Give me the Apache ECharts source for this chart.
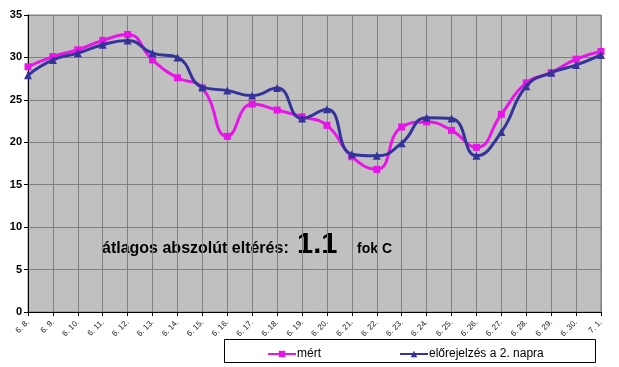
<!DOCTYPE html>
<html>
<head>
<meta charset="utf-8">
<script src="https://cdn.jsdelivr.net/npm/echarts@6/dist/echarts.min.js"></script>
<style>
  html, body { margin: 0; padding: 0; background: #fff; }
  #chart { width: 619px; height: 367px; }
</style>
</head>
<body>
<div id="chart"></div>
<script>
var days = ['6. 8.', '6. 9.', '6. 10.', '6. 11.', '6. 12.', '6. 13.', '6. 14.', '6. 15.',
  '6. 16.', '6. 17.', '6. 18.', '6. 19.', '6. 20.', '6. 21.', '6. 22.', '6. 23.',
  '6. 24.', '6. 25.', '6. 26.', '6. 27.', '6. 28.', '6. 29.', '6. 30.', '7. 1.'];
var mert = [28.9, 30.1, 30.9, 32.0, 32.7, 29.7, 27.6, 26.4, 20.7, 24.5, 23.8, 23.0,
  22.0, 18.3, 16.8, 21.8, 22.4, 21.4, 19.4, 23.3, 27.0, 28.2, 29.8, 30.7];
var elore = [27.9, 29.7, 30.5, 31.5, 32.0, 30.5, 30.0, 26.5, 26.1, 25.5, 26.4, 22.8,
  23.9, 18.6, 18.4, 19.9, 22.9, 22.8, 18.4, 21.2, 26.6, 28.2, 29.1, 30.3];
var seriesNames = ['mért', 'előrejelzés a 2. napra'];

var myChart = echarts.init(document.getElementById('chart'));
var option = {
  animation: false,
  grid: { left: 28, right: 18, top: 15, bottom: 55, show: true,
    backgroundColor: '#C0C0C0', borderColor: '#808080', borderWidth: 1 },
  xAxis: {
    type: 'category',
    data: days,
    boundaryGap: false,
    axisLine: { lineStyle: { color: '#000', width: 1 } },
    axisTick: { show: true, length: 4, lineStyle: { color: '#000' } },
    axisLabel: { rotate: 45, fontFamily: 'Arial', fontSize: 8, color: '#222', margin: 9, interval: 0 },
    splitLine: { show: true, lineStyle: { color: '#808080', width: 1 } }
  },
  yAxis: {
    type: 'value',
    min: 0, max: 35, interval: 5,
    axisLine: { show: true, lineStyle: { color: '#000', width: 1 } },
    axisTick: { show: true, length: 4, lineStyle: { color: '#000' } },
    axisLabel: { fontFamily: 'Arial', fontWeight: 'bold', fontSize: 11, color: '#000', margin: 6 },
    splitLine: { show: true, lineStyle: { color: '#808080', width: 1 } }
  },
  legend: {
    left: 262, top: 343,
    itemWidth: 28, itemHeight: 8, itemGap: 78,
    textStyle: { fontFamily: 'Arial', fontSize: 12, color: '#000', padding: [0, 0, 0, -4] },
    data: seriesNames
  },
  graphic: [
    { type: 'rect', shape: { x: 224.5, y: 339.5, width: 371, height: 23 },
      style: { fill: '#fff', stroke: '#000', lineWidth: 1 }, z: -1 },
    { type: 'text', left: 102, top: 241,
      style: { text: 'átlagos abszolút eltérés:', font: 'bold 16px Arial', fill: '#000' } },
    { type: 'text', left: 297, top: 230,
      style: { text: '1.1', font: 'bold 29px Arial', fill: '#000' } },
    { type: 'text', left: 357, top: 242,
      style: { text: 'fok C', font: 'bold 14px Arial', fill: '#000' } }
  ],
  series: [
    {
      name: seriesNames[0], type: 'line', data: mert, smooth: 0.5,
      symbol: 'rect', symbolSize: 7,
      lineStyle: { color: '#E815E8', width: 3 },
      itemStyle: { color: '#E815E8' }, z: 2
    },
    {
      name: seriesNames[1], type: 'line', data: elore, smooth: 0.5,
      symbol: 'triangle', symbolSize: 8,
      lineStyle: { color: '#333399', width: 3 },
      itemStyle: { color: '#333399' }, z: 3
    }
  ]
};
myChart.setOption(option);
</script>
</body>
</html>
